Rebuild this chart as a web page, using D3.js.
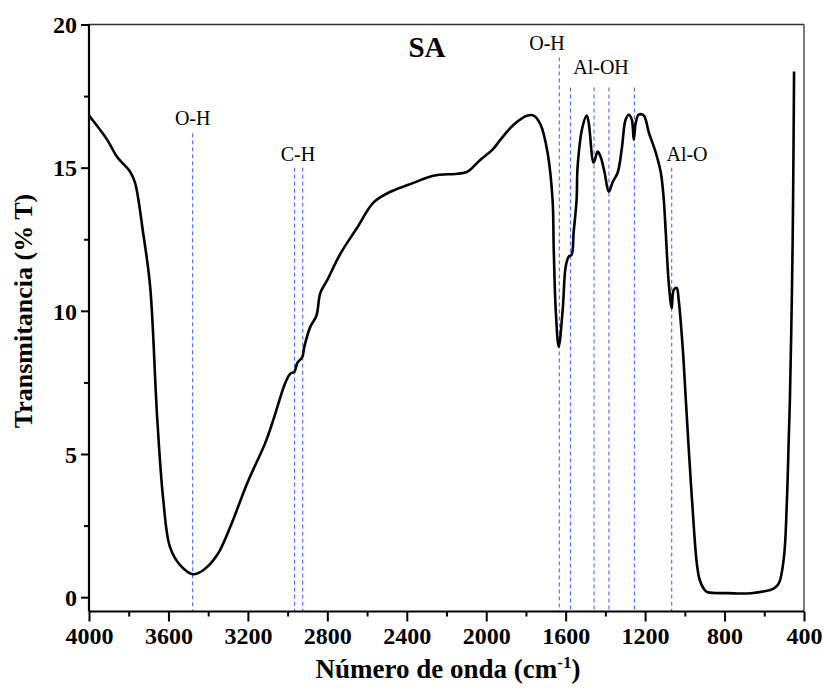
<!DOCTYPE html>
<html><head><meta charset="utf-8">
<script src="https://cdn.jsdelivr.net/npm/d3@7"></script>
<style>body{margin:0;background:#fff}svg{display:block}text{font-family:"Liberation Serif","Times New Roman",serif}</style>
</head><body>
<svg id="c" width="823" height="688"></svg>
<script>
const wavenumber = [4000,3909,3859,3793,3768,3727,3692,3657,3626,3592,3541,3476,3425,3355,3289,3203,3113,3072,3012,2987,2966,2951,2926,2916,2886,2855,2835,2800,2734,2650,2568,2482,2366,2266,2145,2094,2029,1968,1928,1862,1792,1761,1726,1691,1666,1660,1650,1635,1615,1600,1585,1570,1560,1545,1540,1515,1494,1484,1459,1439,1424,1404,1383,1363,1338,1318,1298,1282,1267,1257,1247,1232,1207,1181,1146,1121,1106,1096,1081,1066,1056,1041,1031,1010,995,980,960,940,925,900,884,783,667,551,526,501,486,476,471,460,455,450];
const transmittance = [16.82,15.98,15.38,14.86,14.47,12.7,10.84,6.3,3.39,1.75,1.12,0.80,0.94,1.47,2.45,3.99,5.38,6.19,7.48,7.80,7.87,8.18,8.39,8.74,9.44,9.83,10.63,11.08,12.0,12.9,13.78,14.16,14.47,14.72,14.79,14.86,15.28,15.63,15.98,16.5,16.82,16.82,16.5,15.52,13.88,12.13,10.03,8.74,10.03,11.54,11.89,11.96,12.73,13.88,15.03,16.43,16.82,16.57,15.17,15.56,15.38,14.83,14.16,14.5,14.83,15.63,16.68,16.85,16.68,15.98,16.57,16.85,16.82,16.22,15.52,14.83,13.88,12.73,10.98,10.1,10.73,10.8,10.38,8.64,6.89,5.14,3.0,1.2,0.6,0.25,0.17,0.14,0.14,0.31,0.49,1.4,3.39,5.73,6.89,11.0,13.88,18.36];

const markerPos = [3478,2965,2924,1632,1576,1457,1382,1254,1066];
const markerTop = [16.2,15.0,15.0,18.85,17.8,17.8,17.8,17.8,15.0];

const labelText = ["O-H","C-H","O-H","Al-OH","Al-O"];
const labelPos = [3478,2948,1694,1422,989];
const labelVal = [16.3,15.05,18.95,18.1,15.05];

const xTicks = [4000,3600,3200,2800,2400,2000,1600,1200,800,400];
const yTicks = [0,5,10,15,20];

const svg = d3.select("#c");
const L=89, R=804, T=24.5, B=611.5;
const x = d3.scaleLinear().domain([4000,400]).range([L,R]);
const y = d3.scaleLinear().domain([-0.5,20]).range([B,T]);

// frame top & right
svg.append("line").attr("x1",L).attr("x2",R).attr("y1",T).attr("y2",T).attr("stroke","#333").attr("stroke-width",1.3);
svg.append("line").attr("x1",R).attr("x2",R).attr("y1",T).attr("y2",B).attr("stroke","#333").attr("stroke-width",1.3);

// dashed markers
markerPos.forEach((w,i)=>{
  svg.append("line").attr("x1",x(w)).attr("x2",x(w)).attr("y1",y(markerTop[i])).attr("y2",B)
    .attr("stroke","#3a5cff").attr("stroke-width",1).attr("stroke-dasharray","4,3");
});

// curve
const pts = wavenumber.map((w,i)=>[w,transmittance[i]]);
svg.append("path").datum(pts)
  .attr("d",d3.line().x(d=>x(d[0])).y(d=>y(d[1])).curve(d3.curveCatmullRom.alpha(0.5)))
  .attr("fill","none").attr("stroke","#000").attr("stroke-width",2.6).attr("stroke-linejoin","round");

// axes
const xAxis = d3.axisBottom(x).tickValues(xTicks).tickSize(10).tickFormat(d3.format("d"));
const gx = svg.append("g").attr("transform",`translate(0,${B})`).call(xAxis);
const xMinor = d3.axisBottom(x).tickValues(d3.range(3800,400,-400)).tickSize(5).tickFormat("");
const gxm = svg.append("g").attr("transform",`translate(0,${B})`).call(xMinor);
const yAxis = d3.axisLeft(y).tickValues(yTicks).tickSize(8);
const gy = svg.append("g").attr("transform",`translate(${L},0)`).call(yAxis);
const yMinor = d3.axisLeft(y).tickValues([2.5,7.5,12.5,17.5]).tickSize(5).tickFormat("");
const gym = svg.append("g").attr("transform",`translate(${L},0)`).call(yMinor);
[gx,gxm,gy,gym].forEach(g=>{
  g.selectAll(".domain").attr("stroke","#000").attr("stroke-width",2.2);
  g.selectAll(".tick line").attr("stroke","#000").attr("stroke-width",2);
});
gxm.select(".domain").remove(); gym.select(".domain").remove();
gy.select(".domain").attr("d",`M0,${B}V${T}`);
gx.select(".domain").attr("d",`M${L},0H${R}`);
gx.selectAll(".tick text").attr("font-size",24).attr("font-weight","bold").attr("fill","#000")
  .attr("font-family","Liberation Serif").attr("dy","0.95em").attr("y",10);
gy.selectAll(".tick text").attr("font-size",24).attr("font-weight","bold").attr("fill","#000")
  .attr("font-family","Liberation Serif").attr("x",-12).attr("dy","0.34em");

// annotations
labelText.forEach((t,i)=>{
  svg.append("text").attr("x",x(labelPos[i])).attr("y",y(labelVal[i])-5).attr("text-anchor","middle")
    .attr("font-size",20).attr("fill","#000").text(t);
});
svg.append("text").attr("x",427).attr("y",57).attr("text-anchor","middle").attr("font-size",29)
  .attr("font-weight","bold").text("SA");

// axis titles
const xt = svg.append("text").attr("x",448).attr("y",678).attr("text-anchor","middle")
  .attr("font-size",27).attr("font-weight","bold");
xt.append("tspan").text("Número de onda (cm");
xt.append("tspan").attr("dy",-10).attr("font-size",17).text("-1");
xt.append("tspan").attr("dy",10).text(")");
svg.append("text").attr("transform","translate(32,311) rotate(-90)").attr("text-anchor","middle")
  .attr("font-size",26).attr("font-weight","bold").text("Transmitancia (% T)");
</script>
</body></html>
